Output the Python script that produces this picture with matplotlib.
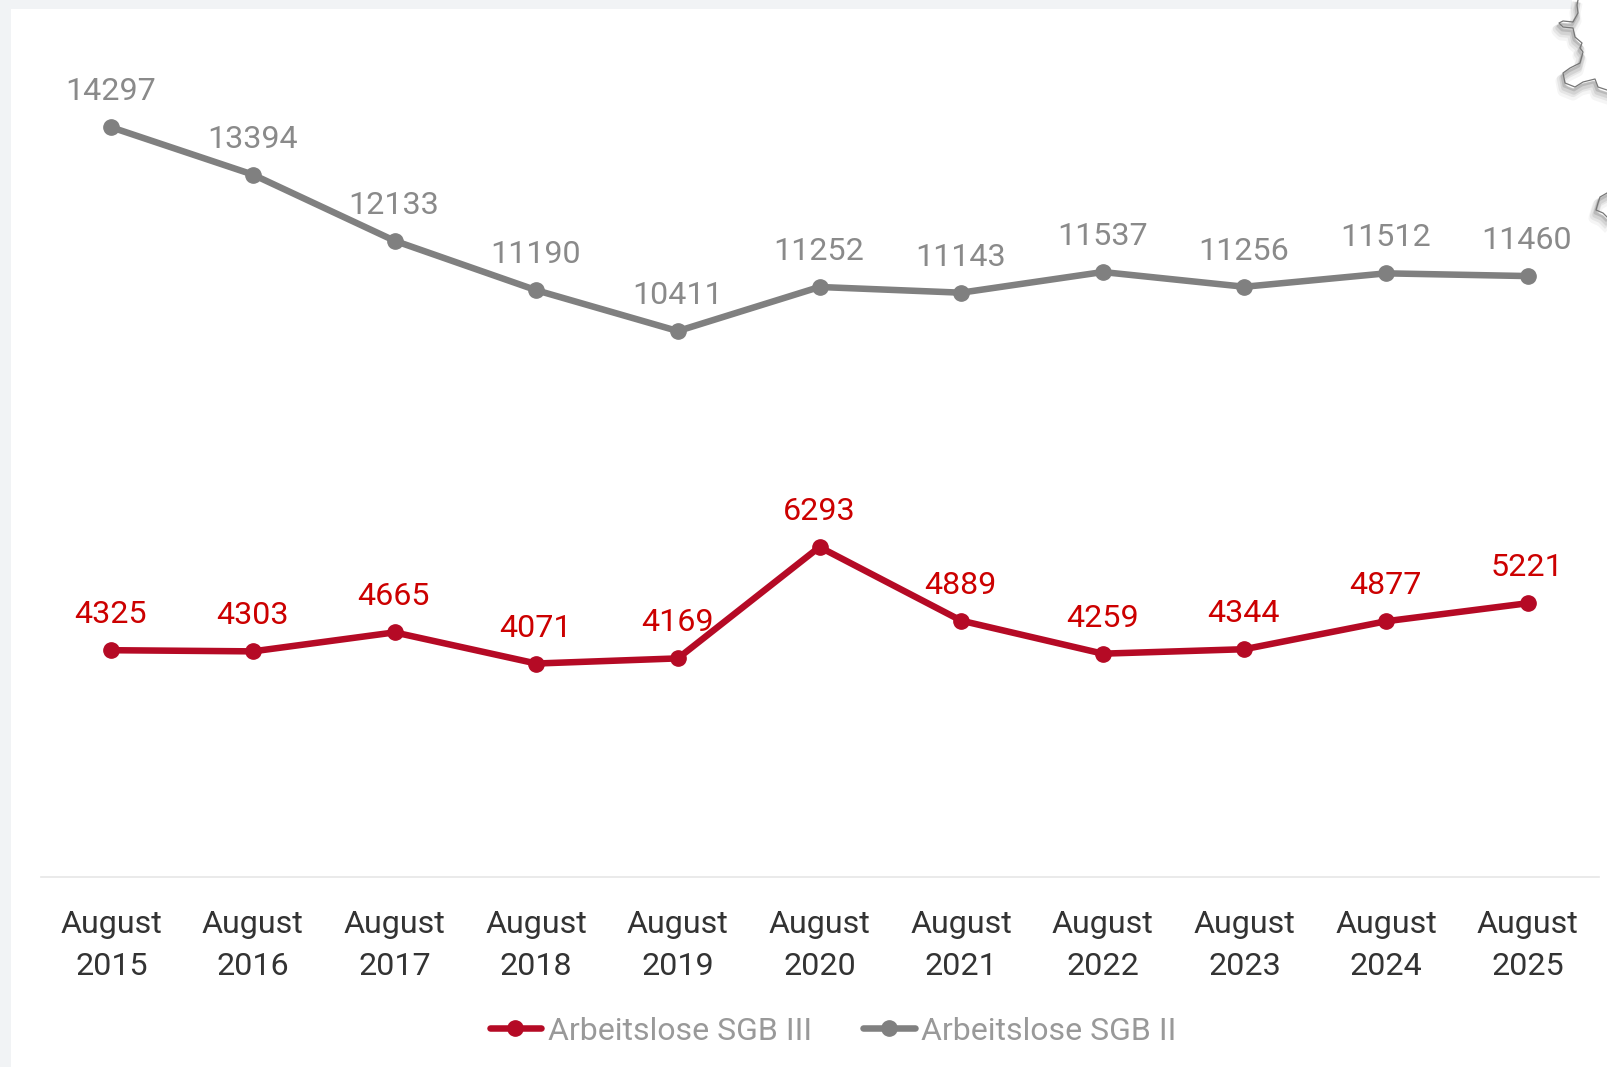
import matplotlib
matplotlib.use("Agg")
import matplotlib.pyplot as plt
from matplotlib.lines import Line2D
from matplotlib.patches import Rectangle, Polygon

W, H = 1607, 1067
plt.rcParams['font.family'] = ['Roboto', 'DejaVu Sans']

months = ["August\n2015", "August\n2016", "August\n2017", "August\n2018", "August\n2019", "August\n2020",
          "August\n2021", "August\n2022", "August\n2023", "August\n2024", "August\n2025"]
sgb3 = [4325, 4303, 4665, 4071, 4169, 6293, 4889, 4259, 4344, 4877, 5221]
sgb2 = [14297, 13394, 12133, 11190, 10411, 11252, 11143, 11537, 11256, 11512, 11460]

# bits of the map that sticks out at the top right, in pixels
map_top = [(1578, 0), (1577, 5), (1578, 13), (1573, 22), (1563, 21), (1559, 23), (1563, 27), (1573, 28),
           (1575, 37), (1582, 43), (1580, 48), (1583, 52), (1580, 63), (1570, 68), (1563, 73), (1565, 83),
           (1575, 87), (1583, 82), (1595, 79), (1598, 87), (1607, 90)]
map_low = [(1607, 193), (1600, 197), (1598, 203), (1596, 210), (1603, 213), (1607, 217)]


def px(points):
    return [(x / W, 1 - y / H) for x, y in points]


fig = plt.figure(figsize=(W / 100, H / 100), dpi=100, facecolor="white")

# page background around the white panel
fig.add_artist(Rectangle((0, 0), 11 / W, 1, transform=fig.transFigure, fc="#f1f3f5", ec="none"))
fig.add_artist(Rectangle((0, 1 - 9 / H), 1572 / W, 9 / H, transform=fig.transFigure, fc="#f1f3f5", ec="none"))

for outline in [map_top, map_low]:
    for dx, dy, lw, a in [(-2, 8, 8, 0.04), (-2, 6, 6, 0.06), (-1, 5, 4, 0.08), (-1, 3, 2, 0.12)]:
        moved = [(x + dx, y + dy) for x, y in outline]
        fig.add_artist(Line2D(*zip(*px(moved)), transform=fig.transFigure, color="black", lw=lw, alpha=a))
    fig.add_artist(Polygon(px(outline + [(1607, outline[0][1])]), transform=fig.transFigure, fc="white", ec="none"))
    fig.add_artist(Line2D(*zip(*px(outline)), transform=fig.transFigure, color="#777777", lw=0.9))

ax = fig.add_axes([40.5 / W, 1 - 877 / H, (1598.5 - 40.5) / W, (877 - 38) / H])
ax.patch.set_alpha(0)
ax.plot(sgb2, color="#808080", lw=4.7, marker="o", ms=11, solid_capstyle="round", label="Arbeitslose SGB II")
ax.plot(sgb3, color="#b50a25", lw=4.7, marker="o", ms=11, solid_capstyle="round", label="Arbeitslose SGB III")

for i, v in enumerate(sgb2):
    ax.annotate(str(v), (i, v), xytext=(-0.5, 19.4), textcoords="offset points", ha="center", va="baseline",
                fontsize=23.2, color="#8a8a8a")
for i, v in enumerate(sgb3):
    ax.annotate(str(v), (i, v), xytext=(-0.5, 19.4), textcoords="offset points", ha="center", va="baseline",
                fontsize=23.2, color="#cc0000")

ax.set_xlim(-0.5, 10.5)
ax.set_ylim(0, 16000)
ax.set_xticks(range(len(months)))
ax.set_xticklabels(months, fontsize=23.2, color="#333333", linespacing=1.56)
ax.tick_params(axis="x", length=0, pad=23.5)
ax.set_yticks([])
for s in ["top", "left", "right"]:
    ax.spines[s].set_visible(False)
ax.spines["bottom"].set_color("#e6e6e6")
ax.spines["bottom"].set_linewidth(1.2)

handles, labels = ax.get_legend_handles_labels()
ax.legend(handles[::-1], labels[::-1], ncol=2, loc="center", bbox_to_anchor=(833 / W, 1 - 1031 / H),
          bbox_transform=fig.transFigure, frameon=False, fontsize=23, labelcolor="#999999",
          handlelength=1.62, handletextpad=0.2, columnspacing=1.6, borderpad=0)

fig.savefig("out.png", dpi=100)
